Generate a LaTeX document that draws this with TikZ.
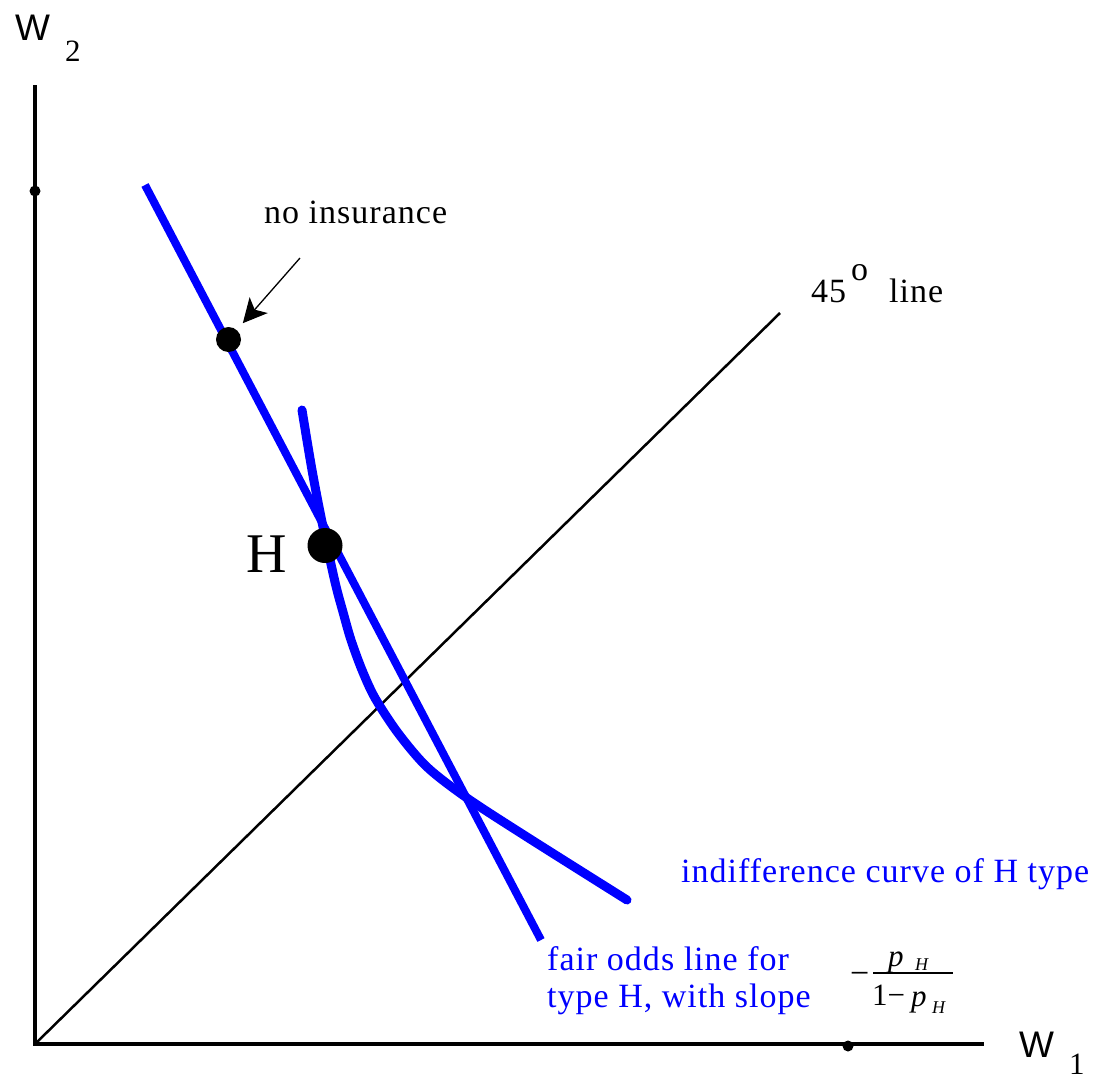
\documentclass[tikz,border=0pt]{standalone}
\usepackage{fontspec}
\setmainfont{Liberation Serif}
\newfontfamily\lsfont[LetterSpace=3]{Liberation Serif}
\newfontfamily\axfont{Liberation Sans}
\usetikzlibrary{arrows.meta}
\definecolor{pureblue}{RGB}{0,0,255}
\begin{document}
\begin{tikzpicture}[x=1pt,y=-1pt,
  axisline/.style={line width=3.5pt, black},
  diagline/.style={line width=2.5pt, black},
  blueline/.style={pureblue, line width=8pt},
  curveline/.style={pureblue, line width=9pt, line cap=round, line join=round},
  dot/.style={circle, fill=black, inner sep=0pt},
  lbl/.style={inner sep=0pt, anchor=base west},
  bluetxt/.style={lbl, text=pureblue, font=\lsfont\fontsize{34}{37}\selectfont},
  blacktxt/.style={lbl, font=\lsfont\fontsize{34}{37}\selectfont},
  axtxt/.style={lbl, font=\axfont\fontsize{37}{40}\selectfont},
  subtxt/.style={lbl, font=\fontsize{31}{32}\selectfont},
  mathtxt/.style={inner sep=0pt, anchor=base west, font=\fontsize{31}{32}\selectfont},
  mathsub/.style={inner sep=0pt, anchor=base west, font=\itshape\fontsize{18}{18}\selectfont}
]
\useasboundingbox (0,0) rectangle (1100,1079);

% coordinates
\coordinate (origin) at (35,1044);
\coordinate (ytop) at (35,85);
\coordinate (xend) at (984,1044);
\coordinate (diagtop) at (780,313);
\coordinate (fairtop) at (145,185);
\coordinate (fairbot) at (541,940);
\coordinate (arrtail) at (300,258);

% axes
\draw[axisline] (ytop) -- (origin) -- (xend);
\draw[diagline] (origin) -- (diagtop);

% axis dots
\node[dot, minimum size=11pt] (ydot) at (35,191) {};
\node[dot, minimum size=11pt] (xdot) at (848,1046) {};

% fair odds line
\draw[blueline] (fairtop) -- (fairbot);

% indifference curve
\draw[curveline] plot[smooth, tension=0.5] coordinates {
  (302,410) (312,470) (322,522) (335,582) (343,612) (351,640) (362,670)
  (375,698) (398,733) (427,767) (467,798) (527,837) (627,900)};

% points
\node[dot, minimum size=25pt] (noins) at (228.5,339.5) {};
\node[dot, minimum size=35pt] (hdot) at (325,545.5) {};

% arrow
\draw[line width=1.3pt, -{Stealth[length=24pt,width=24pt,inset=6pt]}, shorten >=9pt] (arrtail) -- (noins);

% labels
\node[axtxt] (w2) at (15,40) {W};
\node[subtxt] (w2s) at (65,61) {2};
\node[axtxt] (w1) at (1019,1057) {W};
\node[subtxt] (w1s) at (1069,1074) {1};

\node[blacktxt] (noinslbl) at (264,223) {no insurance};
\node[blacktxt] (fortyfive) at (811,302) {45};
\node[blacktxt] (degree) at (851,280) {o};
\node[blacktxt] (linelbl) at (889,302) {line};
\node[lbl, font=\fontsize{56}{60}\selectfont] (hlbl) at (246,572) {H};

\node[bluetxt] (icurve) at (681,882) {indifference curve of H type};
\node[bluetxt] (fair1) at (547,970) {fair odds line for};
\node[bluetxt] (fair2) at (547,1007) {type H, with slope};

% slope formula
\node[mathtxt, font=\fontsize{34}{34}\selectfont] (minus) at (850,984) {−};
\coordinate (barl) at (873,973);
\coordinate (barr) at (953,973);
\draw[line width=1.3pt] (barl) -- (barr);
\node[mathtxt] (nump) at (888,966) {\itshape p};
\node[mathsub] (numh) at (915,970) {H};
\node[mathtxt] (den1) at (872,1005) {1−};
\node[mathtxt] (denp) at (911,1006) {\itshape p};
\node[mathsub] (denh) at (932,1013) {H};
\end{tikzpicture}
\end{document}
